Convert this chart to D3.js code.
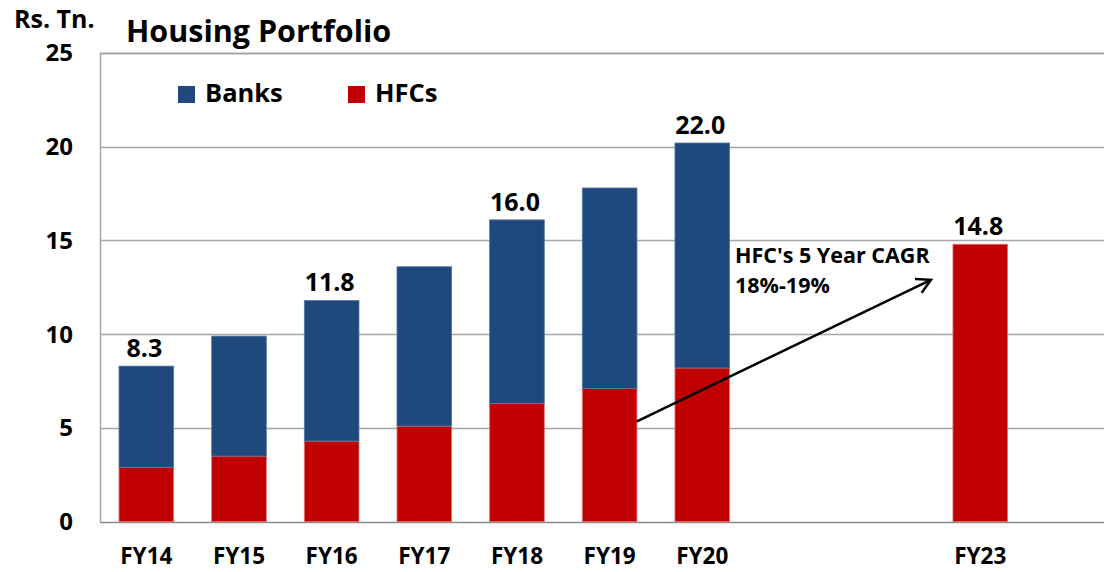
<!DOCTYPE html>
<meta charset="utf-8">
<style>
	body { margin: 0; background: #fff; }
	text { font-family: "Open Sans", Lato, sans-serif; font-weight: bold; fill: #000; }
</style>
<body></body>
<script src="https://d3js.org/d3.v7.min.js"></script>
<script>

	// data (Rs. trillion)
	var years = ["FY14", "FY15", "FY16", "FY17", "FY18", "FY19", "FY20", "FY21", "FY22", "FY23"];
	var hfcs  = [2.9, 3.5, 4.3, 5.1, 6.3, 7.1, 8.2, 0, 0, 14.8];
	var banks = [5.4, 6.4, 7.5, 8.5, 9.8, 10.7, 12.0, 0, 0, 0];
	var totalLabels = ["8.3", "", "11.8", "", "16.0", "", "22.0", "", "", "14.8"];
	var tickLabels = ["FY14", "FY15", "FY16", "FY17", "FY18", "FY19", "FY20", "", "", "FY23"];
	var yTicks = [0, 5, 10, 15, 20, 25];

	var width = 1104, height = 572;
	var plotLeft = 100, plotTop = 53, plotBottom = 521.7;

	var svg = d3.select("body").append("svg")
		.attr("width", width)
		.attr("height", height);

	var x = d3.scaleBand()
		.domain(years)
		.range([plotLeft, plotLeft + 926.6])
		.paddingInner(0.41)
		.paddingOuter(0.205);

	var y = d3.scaleLinear()
		.domain([0, 25])
		.range([plotBottom, plotTop]);

	// gridlines
	svg.append("g")
		.selectAll("line")
		.data(yTicks)
		.enter()
		.append("line")
		.attr("x1", plotLeft)
		.attr("x2", width)
		.attr("y1", function(d) { return Math.round(y(d)) + 0.5; })
		.attr("y2", function(d) { return Math.round(y(d)) + 0.5; })
		.attr("stroke", function(d) { return d == 0 ? "#8a8a8a" : "#a6a6a6"; })
		.attr("stroke-width", function(d) { return d == 25 ? 2 : 1.5; });

	// left axis line
	svg.append("line")
		.attr("x1", plotLeft + 0.5).attr("x2", plotLeft + 0.5)
		.attr("y1", y(25)).attr("y2", y(0))
		.attr("stroke", "#a6a6a6")
		.attr("stroke-width", 1.5);

	// stacked bars
	var stackData = years.map(function(d, i) { return {year: d, hfcs: hfcs[i], banks: banks[i]}; });
	var series = d3.stack().keys(["hfcs", "banks"])(stackData);
	var colors = {hfcs: "#c00000", banks: "#1f497d"};
	var edges = {hfcs: "#e07a7a", banks: "#5b7aa6"};

	svg.append("g")
		.selectAll("g")
		.data(series)
		.enter()
		.append("g")
		.attr("fill", function(s) { return colors[s.key]; })
		.attr("stroke", function(s) { return edges[s.key]; })
		.attr("stroke-width", 0.8)
		.selectAll("rect")
		.data(function(s) { return s.filter(function(d) { return d[1] > d[0]; }); })
		.enter()
		.append("rect")
		.attr("x", function(d) { return x(d.data.year); })
		.attr("y", function(d) { return y(d[1]); })
		.attr("width", x.bandwidth())
		.attr("height", function(d) { return y(d[0]) - y(d[1]); });

	// total labels
	svg.append("g")
		.selectAll("text")
		.data(years)
		.enter()
		.append("text")
		.text(function(d, i) { return totalLabels[i]; })
		.attr("x", function(d) { return x(d) + x.bandwidth() / 2 - 2; })
		.attr("y", function(d, i) { return y(hfcs[i] + banks[i]) - 9; })
		.attr("text-anchor", "middle")
		.attr("font-size", "25px");

	// y axis labels
	svg.append("g")
		.selectAll("text")
		.data(yTicks)
		.enter()
		.append("text")
		.text(function(d) { return d; })
		.attr("x", 73)
		.attr("y", function(d) { return y(d); })
		.attr("dy", "0.35em")
		.attr("text-anchor", "end")
		.attr("font-size", "24px");

	// x axis labels
	svg.append("g")
		.selectAll("text")
		.data(years)
		.enter()
		.append("text")
		.text(function(d, i) { return tickLabels[i]; })
		.attr("x", function(d) { return x(d) + x.bandwidth() / 2; })
		.attr("y", 564)
		.attr("text-anchor", "middle")
		.attr("font-size", "22.5px");

	// unit and title
	svg.append("text")
		.text("Rs. Tn.")
		.attr("x", 14).attr("y", 28)
		.attr("font-size", "25px");

	svg.append("text")
		.text("Housing Portfolio")
		.attr("x", 126).attr("y", 42)
		.attr("font-size", "30.5px");

	// legend
	var legend = [{name: "Banks", key: "banks", x: 178}, {name: "HFCs", key: "hfcs", x: 348}];
	var lg = svg.append("g")
		.selectAll("g")
		.data(legend)
		.enter()
		.append("g")
		.attr("transform", function(d) { return "translate(" + d.x + ",86)"; });
	lg.append("rect")
		.attr("width", 17).attr("height", 17)
		.attr("fill", function(d) { return colors[d.key]; });
	lg.append("text")
		.text(function(d) { return d.name; })
		.attr("x", 27).attr("y", 16)
		.attr("font-size", "25.5px");

	// CAGR annotation
	var x1 = x("FY19") + x.bandwidth(), y1 = y(5.35);
	var x2 = x("FY23") - 22, y2 = y(12.9);
	svg.append("line")
		.attr("x1", x1).attr("y1", y1)
		.attr("x2", x2).attr("y2", y2)
		.attr("stroke", "#000")
		.attr("stroke-width", 2.5);

	var ang = Math.atan2(y2 - y1, x2 - x1);
	var head = 16, spread = 0.5;
	svg.append("path")
		.attr("d", "M" + (x2 - head * Math.cos(ang - spread)) + "," + (y2 - head * Math.sin(ang - spread)) +
			"L" + x2 + "," + y2 +
			"L" + (x2 - head * Math.cos(ang + spread)) + "," + (y2 - head * Math.sin(ang + spread)))
		.attr("fill", "none")
		.attr("stroke", "#000")
		.attr("stroke-width", 2.5);

	svg.append("text")
		.text("HFC's 5 Year CAGR")
		.attr("x", 735).attr("y", 263)
		.attr("font-size", "21.5px");
	svg.append("text")
		.text("18%-19%")
		.attr("x", 735).attr("y", 293)
		.attr("font-size", "21.5px");

</script>
